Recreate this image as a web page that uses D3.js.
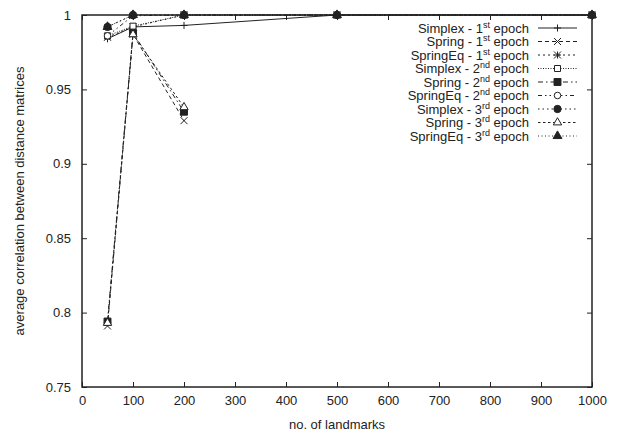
<!DOCTYPE html>
<html>
<head>
<meta charset="utf-8">
<script src="https://cdn.jsdelivr.net/npm/d3@7"></script>
<style>
  body { margin: 0; background: #fff; }
  text { font-family: "Liberation Sans", Arial, sans-serif; fill: #222; }
</style>
</head>
<body>
<div id="chart"></div>
<script>
// data
var landmarks = [50, 100, 200, 500, 1000];
var springLandmarks = [50, 100, 200];

var simplex1 = [0.984, 0.992, 0.993, 1.0, 1.0];
var spring1 = [0.791, 0.987, 0.929];
var springEq1 = [0.985, 0.992, 1.0, 1.0, 1.0];
var simplex2 = [0.986, 0.9925, 1.0, 1.0, 1.0];
var spring2 = [0.794, 0.988, 0.935];
var springEq2 = [0.986, 0.9995, 1.0, 1.0, 1.0];
var simplex3 = [0.992, 1.0, 1.0, 1.0, 1.0];
var spring3 = [0.793, 0.987, 0.938];
var springEq3 = [0.992, 1.0, 1.0, 1.0, 1.0];

var seriesNames = ["Simplex", "Spring", "SpringEq", "Simplex", "Spring", "SpringEq", "Simplex", "Spring", "SpringEq"];
var epochNum = ["1", "1", "1", "2", "2", "2", "3", "3", "3"];
var epochSup = ["st", "st", "st", "nd", "nd", "nd", "rd", "rd", "rd"];
var xTicks = [0, 100, 200, 300, 400, 500, 600, 700, 800, 900, 1000];
var yTicks = [0.75, 0.8, 0.85, 0.9, 0.95, 1];

// style per series
var series = [
  {x: landmarks, y: simplex1, dash: null, mark: "plus"},
  {x: springLandmarks, y: spring1, dash: "4,3", mark: "cross"},
  {x: landmarks, y: springEq1, dash: "2,3", mark: "star"},
  {x: landmarks, y: simplex2, dash: "1,1.5", mark: "square"},
  {x: springLandmarks, y: spring2, dash: "5,3,1.5,3", mark: "squareFilled"},
  {x: landmarks, y: springEq2, dash: "4,3,1.5,3,1.5,3", mark: "circle"},
  {x: landmarks, y: simplex3, dash: "1.5,3", mark: "circleFilled"},
  {x: springLandmarks, y: spring3, dash: "2.5,2.5", mark: "triangle"},
  {x: landmarks, y: springEq3, dash: "1,2.5", mark: "triangleFilled"}
];

var svgWidth = 618, svgHeight = 432;
var margin = {top: 15, right: 26, bottom: 45, left: 82};
var width = svgWidth - margin.left - margin.right;
var height = svgHeight - margin.top - margin.bottom;

var svg = d3.select("#chart").append("svg")
  .attr("width", svgWidth).attr("height", svgHeight);
var chart = svg.append("g")
  .attr("transform", "translate(" + margin.left + "," + margin.top + ")");

var x = d3.scaleLinear().domain([0, 1000]).range([0, width]);
var y = d3.scaleLinear().domain([0.75, 1]).range([height, 0]);

var ink = "#222";

// axes with inward ticks on all four sides
var bottomAxis = d3.axisBottom(x).tickValues(xTicks).tickSize(-5).tickPadding(9).tickFormat(d3.format("d"));
var topAxis = d3.axisTop(x).tickValues(xTicks).tickSize(-5).tickFormat("");
var leftAxis = d3.axisLeft(y).tickValues(yTicks).tickSize(-5).tickPadding(11).tickFormat(function(d) { return d3.format("")(+d.toFixed(2)); });
var rightAxis = d3.axisRight(y).tickValues(yTicks).tickSize(-5).tickFormat("");

function styleAxis(g) {
  g.select(".domain").remove();
  g.selectAll("line").attr("stroke", ink).attr("stroke-width", 1);
  g.selectAll("text").attr("font-size", 13).attr("fill", ink)
    .style("font-family", "'Liberation Sans', Arial, sans-serif");
}

chart.append("g").attr("transform", "translate(0," + height + ")").call(bottomAxis).call(styleAxis);
chart.append("g").call(topAxis).call(styleAxis);
chart.append("g").call(leftAxis).call(styleAxis);
chart.append("g").attr("transform", "translate(" + width + ",0)").call(rightAxis).call(styleAxis);

chart.append("rect").attr("width", width).attr("height", height)
  .attr("fill", "none").attr("stroke", ink).attr("stroke-width", 1.5);

// markers
function drawMarker(g, type, cx, cy) {
  var s = 3.5;
  if (type == "plus") {
    g.append("path").attr("d", "M" + (cx - s) + "," + cy + "H" + (cx + s) + "M" + cx + "," + (cy - s) + "V" + (cy + s))
      .attr("stroke", ink).attr("stroke-width", 1).attr("fill", "none");
  } else if (type == "cross") {
    g.append("path").attr("d", "M" + (cx - s) + "," + (cy - s) + "L" + (cx + s) + "," + (cy + s) + "M" + (cx - s) + "," + (cy + s) + "L" + (cx + s) + "," + (cy - s))
      .attr("stroke", ink).attr("stroke-width", 1).attr("fill", "none");
  } else if (type == "star") {
    g.append("path").attr("d", "M" + (cx - s) + "," + (cy - s) + "L" + (cx + s) + "," + (cy + s) + "M" + (cx - s) + "," + (cy + s) + "L" + (cx + s) + "," + (cy - s) + "M" + (cx - s) + "," + cy + "H" + (cx + s) + "M" + cx + "," + (cy - s) + "V" + (cy + s))
      .attr("stroke", ink).attr("stroke-width", 1).attr("fill", "none");
  } else {
    var sym = d3.symbolSquare, filled = false, size = 42;
    if (type == "square") { sym = d3.symbolSquare; size = 36; }
    if (type == "squareFilled") { sym = d3.symbolSquare; filled = true; size = 48; }
    if (type == "circle") { sym = d3.symbolCircle; size = 34; }
    if (type == "circleFilled") { sym = d3.symbolCircle; filled = true; size = 42; }
    if (type == "triangle") { sym = d3.symbolTriangle; size = 30; }
    if (type == "triangleFilled") { sym = d3.symbolTriangle; filled = true; size = 34; }
    g.append("path").attr("d", d3.symbol().type(sym).size(size)())
      .attr("transform", "translate(" + cx + "," + cy + ")")
      .attr("fill", filled ? ink : "#fff").attr("stroke", ink).attr("stroke-width", 1);
  }
}

var line = d3.line().x(function(d) { return x(d[0]); }).y(function(d) { return y(d[1]); });

series.forEach(function(s) {
  var pts = s.x.map(function(v, i) { return [v, s.y[i]]; });
  chart.append("path").datum(pts).attr("d", line)
    .attr("fill", "none").attr("stroke", ink).attr("stroke-width", 1)
    .attr("stroke-dasharray", s.dash);
});
series.forEach(function(s) {
  var g = chart.append("g");
  s.x.forEach(function(v, i) { drawMarker(g, s.mark, x(v), y(s.y[i])); });
});

// legend
var legend = svg.append("g");
series.forEach(function(s, i) {
  var ly = 28 + i * 13.5;
  var t = legend.append("text").attr("x", 529).attr("y", ly + 4.5)
    .attr("text-anchor", "end").attr("font-size", 13);
  t.append("tspan").text(seriesNames[i] + " - " + epochNum[i]);
  t.append("tspan").attr("font-size", 9).attr("dy", -5).text(epochSup[i]);
  t.append("tspan").attr("dy", 5).text(" epoch");
  legend.append("line").attr("x1", 538).attr("x2", 577).attr("y1", ly).attr("y2", ly)
    .attr("stroke", ink).attr("stroke-width", 1).attr("stroke-dasharray", s.dash);
  drawMarker(legend, s.mark, 557.5, ly);
});

// axis titles
svg.append("text").attr("x", margin.left + width / 2).attr("y", 429)
  .attr("text-anchor", "middle").attr("font-size", 13).text("no. of landmarks");
svg.append("text").attr("transform", "translate(24," + (margin.top + height / 2) + ") rotate(-90)")
  .attr("text-anchor", "middle").attr("font-size", 13).text("average correlation between distance matrices");
</script>
</body>
</html>
